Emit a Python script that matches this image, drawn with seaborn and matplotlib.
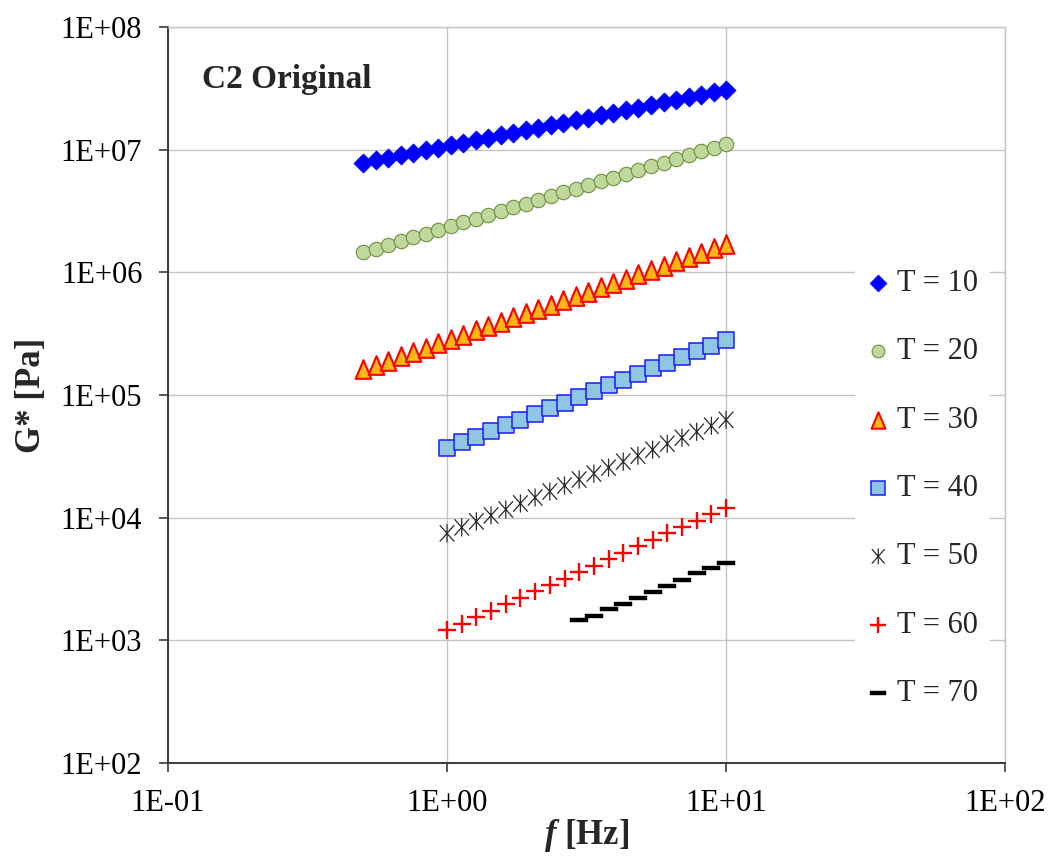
import matplotlib
matplotlib.use("Agg")
import matplotlib.pyplot as plt
from matplotlib.path import Path
from matplotlib.ticker import FixedLocator, FuncFormatter, NullLocator
import numpy as np
import pandas as pd
import seaborn as sns

# Frequency sweeps [Hz]
freq_a = [0.500, 0.5545, 0.6148, 0.6818, 0.7560, 0.8383, 0.9293, 1.030, 1.143, 1.267,
          1.405, 1.558, 1.727, 1.916, 2.124, 2.355, 2.612, 2.896, 3.211, 3.561,
          3.949, 4.379, 4.855, 5.384, 5.970, 6.620, 7.341, 8.140, 9.026, 10.00]
freq_b = [1.000, 1.129, 1.274, 1.438, 1.624, 1.833, 2.069, 2.336, 2.637, 2.976,
          3.360, 3.793, 4.281, 4.833, 5.456, 6.158, 6.952, 7.848, 8.859, 10.00]
freq_c = [2.976, 3.360, 3.793, 4.281, 4.833, 5.456, 6.158, 6.952, 7.848, 8.859, 10.00]

# Complex modulus G* [Pa] per test temperature
g_t10 = [7.78e6, 8.16e6, 8.55e6, 8.97e6, 9.40e6, 9.86e6, 1.034e7, 1.084e7, 1.136e7, 1.191e7,
         1.249e7, 1.310e7, 1.373e7, 1.440e7, 1.510e7, 1.583e7, 1.660e7, 1.740e7, 1.825e7, 1.913e7,
         2.006e7, 2.103e7, 2.205e7, 2.312e7, 2.424e7, 2.542e7, 2.665e7, 2.794e7, 2.930e7, 3.072e7]
g_t20 = [1.456e6, 1.562e6, 1.675e6, 1.797e6, 1.928e6, 2.068e6, 2.218e6, 2.380e6, 2.553e6, 2.738e6,
         2.937e6, 3.151e6, 3.380e6, 3.626e6, 3.889e6, 4.172e6, 4.476e6, 4.801e6, 5.150e6, 5.525e6,
         5.926e6, 6.357e6, 6.819e6, 7.315e6, 7.847e6, 8.418e6, 9.030e6, 9.686e6, 1.039e7, 1.115e7]
g_t30 = [1.622e5, 1.759e5, 1.907e5, 2.068e5, 2.242e5, 2.431e5, 2.636e5, 2.858e5, 3.099e5, 3.360e5,
         3.643e5, 3.950e5, 4.283e5, 4.644e5, 5.036e5, 5.460e5, 5.921e5, 6.420e5, 6.961e5, 7.548e5,
         8.184e5, 8.874e5, 9.622e5, 1.043e6, 1.131e6, 1.227e6, 1.330e6, 1.442e6, 1.564e6, 1.696e6]
g_t40 = [3.690e4, 4.106e4, 4.569e4, 5.085e4, 5.658e4, 6.297e4, 7.007e4, 7.797e4, 8.677e4, 9.655e4,
         1.074e5, 1.196e5, 1.330e5, 1.480e5, 1.647e5, 1.833e5, 2.040e5, 2.270e5, 2.526e5, 2.811e5]
g_t50 = [7.45e3, 8.33e3, 9.32e3, 1.043e4, 1.167e4, 1.305e4, 1.460e4, 1.634e4, 1.828e4, 2.045e4,
         2.287e4, 2.559e4, 2.863e4, 3.203e4, 3.583e4, 4.008e4, 4.484e4, 5.016e4, 5.611e4, 6.277e4]
g_t60 = [1.210e3, 1.366e3, 1.542e3, 1.740e3, 1.964e3, 2.217e3, 2.502e3, 2.824e3, 3.188e3, 3.598e3,
         4.061e3, 4.584e3, 5.174e3, 5.840e3, 6.591e3, 7.440e3, 8.397e3, 9.478e3, 1.070e4, 1.208e4]
g_t70 = [1462, 1585, 1799, 1959, 2193, 2489, 2768, 3097, 3508, 3908, 4295]

series_labels = ["T = 10", "T = 20", "T = 30", "T = 40", "T = 50", "T = 60", "T = 70"]
x_ticks = [0.1, 1.0, 10.0, 100.0]
y_ticks = [1e2, 1e3, 1e4, 1e5, 1e6, 1e7, 1e8]

# Marker shapes
M, L, C = Path.MOVETO, Path.LINETO, Path.CLOSEPOLY
tri_path = Path([(0, 1), (-0.84, -1), (0.84, -1), (0, 1)], [M, L, L, C])
star_path = Path([(0, -1), (0, 1), (-0.8, -0.9), (0.8, 0.9), (-0.8, 0.9), (0.8, -0.9)],
                 [M, L, M, L, M, L])
plus_path = Path([(-1, 0), (1, 0), (0, -1), (0, 1)], [M, L, M, L])
dash_path = Path([(-1, -0.25), (1, -0.25), (1, 0.25), (-1, 0.25), (-1, -0.25)], [M, L, L, L, C])

sns.set_style("white")
plt.rcParams["font.family"] = ["Liberation Serif", "DejaVu Serif"]
plt.rcParams["mathtext.fontset"] = "custom"
plt.rcParams["mathtext.it"] = "Liberation Serif:italic:bold"
plt.rcParams["mathtext.rm"] = "Liberation Serif:bold"

fig = plt.figure(figsize=(10.48, 8.57), dpi=100)
ax = fig.add_axes([0.1603, 0.1097, 0.7987, 0.8588])
ax.set_xscale("log")
ax.set_yscale("log")

styles = [
    (freq_a, g_t10, dict(marker="D", s=95, facecolor="#0000FF", edgecolor="#0000FF", linewidth=0.5)),
    (freq_a, g_t20, dict(marker="o", s=108, facecolor="#C0D89C", edgecolor="#6E9040", linewidth=0.8)),
    (freq_a, g_t30, dict(marker=tri_path, s=180, facecolor="#FDB813", edgecolor="#FF0000", linewidth=1.5)),
    (freq_b, g_t40, dict(marker="s", s=122, facecolor="#8EC6E4", edgecolor="#1A1AFF", linewidth=1.1)),
    (freq_b, g_t50, dict(marker=star_path, s=170, facecolor="none", edgecolor="#2A2A2A", linewidth=0.9)),
    (freq_b, g_t60, dict(marker=plus_path, s=165, facecolor="none", edgecolor="#FF0000", linewidth=1.7)),
    (freq_c, g_t70, dict(marker=dash_path, s=155, facecolor="#000000", edgecolor="#000000", linewidth=0.3)),
]

for (f, g, kw), lab in zip(styles, series_labels):
    d = pd.DataFrame({"f": f, "G": g})
    sns.scatterplot(data=d, x="f", y="G", ax=ax, label=lab, zorder=3, **kw)

ax.set_xlim(0.1, 100)
ax.set_ylim(1e2, 1e8)
ax.xaxis.set_major_locator(FixedLocator(x_ticks))
ax.yaxis.set_major_locator(FixedLocator(y_ticks))
ax.xaxis.set_minor_locator(NullLocator())
ax.yaxis.set_minor_locator(NullLocator())
fmt = FuncFormatter(lambda v, pos: "1E{:+03d}".format(int(round(np.log10(v)))))
ax.xaxis.set_major_formatter(fmt)
ax.yaxis.set_major_formatter(fmt)

ax.grid(True, which="major", color="#C4C4C4", linewidth=1.0, zorder=0)
ax.set_axisbelow(True)
for side in ("top", "right"):
    ax.spines[side].set_color("#C4C4C4")
    ax.spines[side].set_linewidth(1.0)
for side in ("left", "bottom"):
    ax.spines[side].set_color("#3A3A3A")
    ax.spines[side].set_linewidth(1.4)

ax.tick_params(axis="both", which="major", direction="out", length=6.5, width=1.2,
               color="#3A3A3A", labelsize=22, labelcolor="black", pad=12,
               left=True, bottom=True)

ax.set_xlabel(r"$f$ [Hz]", fontsize=25, fontweight="bold")
ax.set_ylabel("G* [Pa]", fontsize=25, fontweight="bold")
ax.xaxis.set_label_coords(0.5, -0.074)
ax.yaxis.set_label_coords(-0.143, 0.5)

ax.text(0.041, 0.928, "C2 Original", transform=ax.transAxes, fontsize=24,
        fontweight="bold", ha="left", va="center")

leg = ax.legend(loc="center left", bbox_to_anchor=(0.821, 0.373), borderaxespad=0,
                fontsize=22, frameon=True, facecolor="white", edgecolor="none",
                framealpha=1.0, fancybox=False, labelspacing=1.29, handlelength=0.75,
                handletextpad=0.25, borderpad=0.38, markerscale=0.88, scatterpoints=1)
leg.set_zorder(5)

fig.savefig("out.png", dpi=100)
